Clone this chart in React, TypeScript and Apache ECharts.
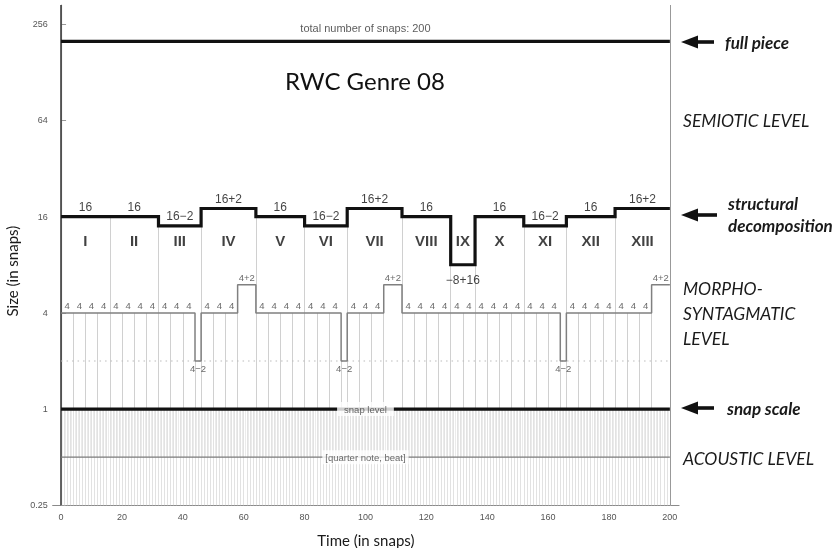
import React, { useEffect, useRef } from "react";
import * as echarts from "echarts";

// ---------------- data ----------------
const sectionNames = ["I", "II", "III", "IV", "V", "VI", "VII", "VIII", "IX", "X", "XI", "XII", "XIII"];
const sectionSizes = [16, 16, 14, 18, 16, 14, 18, 16, 8, 16, 14, 16, 18];
const sectionLabels = ["16", "16", "16−2", "16+2", "16", "16−2", "16+2", "16", "−8+16", "16", "16−2", "16", "16+2"];
const morphoSizes = [
  4, 4, 4, 4, 4, 4, 4, 4, 4, 4, 4, 2, 4, 4, 4, 6,
  4, 4, 4, 4, 4, 4, 4, 2, 4, 4, 4, 6, 4, 4, 4, 4,
  4, 4, 4, 4, 4, 4, 4, 4, 4, 2, 4, 4, 4, 4, 4, 4, 4, 6,
];
const morphoLabels = [
  "4", "4", "4", "4", "4", "4", "4", "4", "4", "4", "4", "4−2", "4", "4", "4", "4+2",
  "4", "4", "4", "4", "4", "4", "4", "4−2", "4", "4", "4", "4+2", "4", "4", "4", "4",
  "4", "4", "4", "4", "4", "4", "4", "4", "4", "4−2", "4", "4", "4", "4", "4", "4", "4", "4+2",
];
const totalSnaps = 200;
const fullPieceLabel = "total number of snaps: 200";
const snapLevel = 1;
const snapLabel = "snap level";
const beatLevel = 0.5;
const beatLabel = "[quarter note, beat]";
const halfMorphoLevel = 2;
const xTicks = [0, 20, 40, 60, 80, 100, 120, 140, 160, 180, 200];
const yTicks = [0.25, 1, 4, 16, 64, 256];

// ---------------- layout constants ----------------
const X_MIN = -2.75;
const X_MAX = 203;
const Y_MIN = 0.25;
const Y_MAX = Math.pow(2, 8.4);
const ROMAN_Y = 11.3;
const TXT = "'Liberation Sans', Arial, sans-serif";
const CAL = "Lato, 'Open Sans', sans-serif";

const starts = (sizes: number[]) => {
  const r: number[] = [];
  let x = 0;
  sizes.forEach((s) => {
    r.push(x);
    x += s;
  });
  return r;
};
const steps = (sizes: number[]) => {
  const pts: number[][] = [];
  let x = 0;
  sizes.forEach((s) => {
    pts.push([x, s], [x + s, s]);
    x += s;
  });
  return pts;
};

export default function App() {
  const ref = useRef<HTMLDivElement>(null);
  useEffect(() => {
    if (!ref.current) return;
    const chart = echarts.init(ref.current, undefined, { renderer: "svg" });

    const sStarts = starts(sectionSizes);
    const mStarts = starts(morphoSizes);
    const structVert = sStarts.slice(1).map((b, i) => ({
      coords: [[b, Math.min(sectionSizes[i], sectionSizes[i + 1])], [b, snapLevel]],
    }));
    const morphoVert = mStarts.slice(1).map((b, i) => ({
      coords: [[b, Math.min(morphoSizes[i], morphoSizes[i + 1])], [b, snapLevel]],
    }));
    const hatch: any[] = [];
    for (let s = 0; s <= totalSnaps; s++) hatch.push({ coords: [[s, snapLevel], [s, Y_MIN]] });
    const hatchHalf: any[] = [];
    for (let s = 0; s < totalSnaps; s++) hatchHalf.push({ coords: [[s + 0.5, snapLevel], [s + 0.5, beatLevel]] });

    const labelSeries = (data: any[], label: any, z = 20) => ({
      type: "scatter",
      symbol: "rect",
      symbolSize: 1,
      silent: true,
      z,
      itemStyle: { color: "rgba(0,0,0,0)" },
      label: { show: true, formatter: "{b}", ...label },
      data,
    });
    const hline = (y: number, lineStyle: any, z: number) => ({
      type: "line",
      symbol: "none",
      silent: true,
      z,
      lineStyle,
      data: [
        [0, y],
        [totalSnaps, y],
      ],
    });

    const arrow = (tipX: number, y: number, endX: number) => [
      {
        type: "polygon",
        shape: { points: [[tipX, y], [tipX + 17, y - 6.5], [tipX + 17, y + 6.5]] },
        style: { fill: "#111" },
      },
      { type: "rect", shape: { x: tipX + 16, y: y - 1.8, width: endX - tipX - 16, height: 3.6 }, style: { fill: "#111" } },
    ];
    const annot = (text: string, x: number, y: number, bold: boolean) => ({
      type: "text",
      x,
      y,
      style: {
        text,
        font: `italic ${bold ? "bold 17px" : "17.5px"} ${CAL}`,
        fill: "#1a1a1a",
        verticalAlign: "middle",
        textAlign: "left",
      },
    });

    chart.setOption({
      animation: false,
      grid: { left: 52.7, right: 157, top: 5, bottom: 42.7, outerBoundsMode: "none" },
      xAxis: {
        type: "value",
        min: X_MIN,
        max: X_MAX,
        name: "Time (in snaps)",
        nameLocation: "middle",
        nameGap: 27,
        nameTextStyle: { fontFamily: CAL, fontSize: 15, color: "#1a1a1a" },
        axisLine: { show: true, lineStyle: { color: "#8a8a8a", width: 1.2 } },
        axisTick: { show: true, inside: true, length: 6, lineStyle: { color: "#999" }, customValues: xTicks },
        axisLabel: { customValues: xTicks, fontSize: 9, color: "#555", fontFamily: TXT, margin: 7 },
        splitLine: { show: false },
      },
      yAxis: {
        type: "log",
        logBase: 2,
        min: Y_MIN,
        max: Y_MAX,
        name: "Size (in snaps)",
        nameLocation: "middle",
        nameGap: 25,
        nameTextStyle: { fontFamily: CAL, fontSize: 15, color: "#1a1a1a", padding: [0, 32, 0, 0] },
        axisLine: { show: true, lineStyle: { color: "#aaa", width: 1.2 } },
        axisTick: { show: true, inside: true, length: 5, lineStyle: { color: "#999" }, customValues: yTicks },
        axisLabel: {
          customValues: yTicks,
          fontSize: 9,
          color: "#555",
          fontFamily: TXT,
          margin: 5,
          formatter: (v: number) => String(+Number(v).toPrecision(6)),
        },
        splitLine: { show: false },
      },
      series: [
        { type: "lines", coordinateSystem: "cartesian2d", silent: true, z: 1, lineStyle: { color: "#e2e2e2", width: 1, opacity: 1 }, data: hatch },
        { type: "lines", coordinateSystem: "cartesian2d", silent: true, z: 1, lineStyle: { color: "#ebebeb", width: 1, opacity: 1 }, data: hatchHalf },
        { type: "lines", coordinateSystem: "cartesian2d", silent: true, z: 2, lineStyle: { color: "#d0d0d0", width: 1, opacity: 1 }, data: morphoVert },
        { type: "lines", coordinateSystem: "cartesian2d", silent: true, z: 2, lineStyle: { color: "#d0d0d0", width: 1, opacity: 1 }, data: structVert },
        {
          type: "lines",
          coordinateSystem: "cartesian2d",
          silent: true,
          z: 3,
          lineStyle: { color: "#333", width: 1.5, opacity: 1 },
          data: [{ coords: [[0, Y_MIN], [0, Y_MAX]] }],
        },
        {
          type: "lines",
          coordinateSystem: "cartesian2d",
          silent: true,
          z: 3,
          lineStyle: { color: "#999", width: 1, opacity: 1 },
          data: [{ coords: [[totalSnaps, Y_MIN], [totalSnaps, Y_MAX]] }],
        },
        hline(halfMorphoLevel, { color: "#bbb", width: 1.2, type: [1.5, 4] }, 4),
        hline(beatLevel, { color: "#7a7a7a", width: 1.2 }, 5),
        hline(snapLevel, { color: "#111", width: 3.2 }, 6),
        hline(totalSnaps, { color: "#111", width: 3.2 }, 6),
        {
          type: "line",
          symbol: "none",
          silent: true,
          z: 7,
          lineStyle: { color: "#808080", width: 1.5 },
          data: steps(morphoSizes),
        },
        {
          type: "line",
          symbol: "none",
          silent: true,
          z: 8,
          lineStyle: { color: "#111", width: 3.2, join: "miter" },
          data: steps(sectionSizes),
        },
        labelSeries(
          sectionSizes.map((s, i) => ({
            value: [sStarts[i] + s / 2, s],
            name: sectionLabels[i],
            label: s < 12 ? { position: "bottom", distance: 9 } : { position: "top", distance: 3 },
          })),
          { fontSize: 12, color: "#111", fontFamily: TXT }
        ),
        labelSeries(
          sectionSizes.map((s, i) => ({ value: [sStarts[i] + s / 2, ROMAN_Y], name: sectionNames[i] })),
          { position: "inside", fontSize: 15, fontWeight: "bold", color: "#111", fontFamily: TXT }
        ),
        labelSeries(
          morphoSizes.map((s, i) => ({
            value: [mStarts[i] + s / 2, s],
            name: morphoLabels[i],
            label: s < 4 ? { position: "bottom", distance: 2 } : { position: "top", distance: 2 },
          })),
          { fontSize: 9.5, color: "#444", fontFamily: TXT }
        ),
        labelSeries(
          [{ value: [totalSnaps / 2, totalSnaps], name: fullPieceLabel }],
          { position: "top", distance: 7, fontSize: 11, color: "#333", fontFamily: TXT }
        ),
        labelSeries(
          [{ value: [totalSnaps / 2, snapLevel], name: snapLabel }],
          { position: "inside", fontSize: 9.5, color: "#444", fontFamily: TXT, backgroundColor: "#fff", padding: [2, 7] },
          30
        ),
        labelSeries(
          [{ value: [totalSnaps / 2, beatLevel], name: beatLabel }],
          { position: "inside", fontSize: 9.5, color: "#444", fontFamily: TXT, backgroundColor: "#fff", padding: [2, 3] },
          30
        ),
      ],
      graphic: [
        {
          type: "text",
          x: 365,
          y: 80,
          style: { text: "RWC Genre 08", font: `24px ${CAL}`, fill: "#111", textAlign: "center", verticalAlign: "middle" },
        },
        ...arrow(681, 42, 714),
        annot("full piece", 725, 42, true),
        annot("SEMIOTIC LEVEL", 683, 120, false),
        ...arrow(681, 215, 717),
        annot("structural", 728, 203, true),
        annot("decomposition", 728, 225, true),
        annot("MORPHO-", 683, 288, false),
        annot("SYNTAGMATIC", 683, 313, false),
        annot("LEVEL", 683, 338, false),
        ...arrow(681, 408, 714),
        annot("snap scale", 727, 408, true),
        annot("ACOUSTIC LEVEL", 683, 458, false),
      ],
    });
    return () => chart.dispose();
  }, []);
  return <div ref={ref} style={{ position: "fixed", left: 0, top: 0, width: 836, height: 548 }} />;
}
